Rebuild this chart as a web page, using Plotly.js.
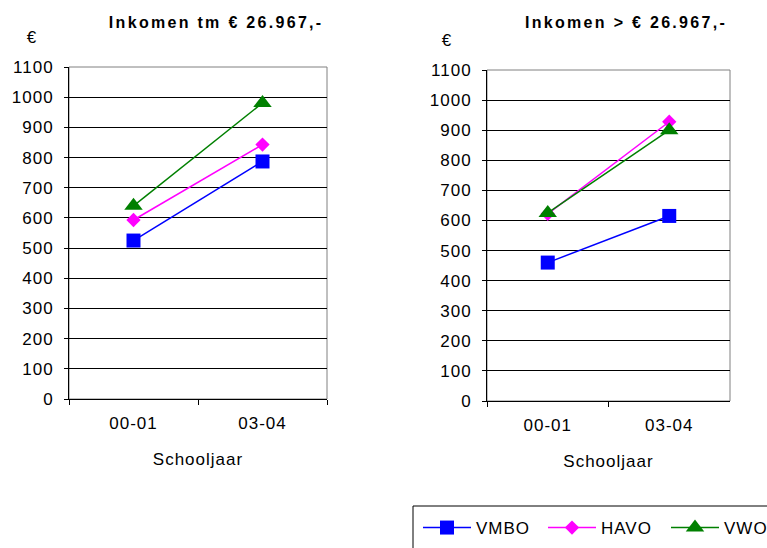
<!DOCTYPE html>
<html>
<head>
<meta charset="utf-8">
<script src="https://cdn.plot.ly/plotly-3.0.1.min.js"></script>
<style>
html,body{margin:0;padding:0;background:#fff;}
#chart{width:767px;height:548px;}
.main-svg text{letter-spacing:1px;}
.main-svg .annotation-text{letter-spacing:2.3px;}
</style>
</head>
<body>
<div id="chart"></div>
<script>
const categories = ["00-01", "03-04"];
const seriesNames = ["VMBO", "HAVO", "VWO"];
// Left panel: Inkomen tm € 26.967,-
const leftVMBO = [525, 787];
const leftHAVO = [593, 843];
const leftVWO  = [640, 981];
// Right panel: Inkomen > € 26.967,-
const rightVMBO = [460, 615];
const rightHAVO = [622, 928];
const rightVWO  = [625, 900];
const yTicks = [0,100,200,300,400,500,600,700,800,900,1000,1100];
const titles = ["Inkomen tm € 26.967,-", "Inkomen > € 26.967,-"];
const xTitle = "Schooljaar";
const yUnit = "€";

const colors = ["#0000ff", "#ff00ff", "#008000"];
const symbols = ["square", "diamond", "triangle-up"];
const sizes = [14, 11, 16];
const legendIds = ["legend", "legend2", "legend3"];

const W = 767, H = 548;
const px = v => v / W, py = v => 1 - v / H;

const leftData = [leftVMBO, leftHAVO, leftVWO];
const rightData = [rightVMBO, rightHAVO, rightVWO];
const traces = [];
[leftData, rightData].forEach((set, p) => {
  set.forEach((vals, i) => {
    traces.push({
      type: "scatter", mode: "lines+markers",
      x: categories, y: vals, name: seriesNames[i],
      xaxis: p === 0 ? "x" : "x2", yaxis: p === 0 ? "y" : "y2",
      showlegend: p === 0, legend: legendIds[i],
      line: {color: colors[i], width: 1.5},
      marker: {color: colors[i], symbol: symbols[i], size: sizes[i]}
    });
  });
});

const font = {family: "Liberation Sans, Arial, sans-serif", color: "#000", size: 17};
function xax(domain, anchor) {
  return {
    domain: domain, anchor: anchor, type: "category",
    range: [-0.5, 1.5], tickson: "boundaries",
    ticks: "outside", ticklen: 5, tickcolor: "#000",
    showline: true, linecolor: "#000", linewidth: 1,
    showgrid: false, zeroline: false,
    tickfont: font, ticklabelstandoff: 9,
    title: {text: xTitle, font: font, standoff: 20}
  };
}
function yax(domain, anchor) {
  return {
    domain: domain, anchor: anchor, range: [0, 1100],
    tickvals: yTicks, ticktext: yTicks.map(String),
    ticks: "outside", ticklen: 4, tickcolor: "#000",
    showline: true, linecolor: "#000", linewidth: 1,
    showgrid: true, gridcolor: "#000", gridwidth: 1,
    zeroline: false, tickfont: font, ticklabelstandoff: 7
  };
}
function leg(xpix) {
  return {
    orientation: "h", x: px(xpix), y: py(510), xanchor: "left", yanchor: "top",
    font: font, bgcolor: "rgba(0,0,0,0)", borderwidth: 0, itemwidth: 48
  };
}

const titleFont = {family: font.family, size: 16, color: "#000", weight: "bold"};
const layout = {
  width: W, height: H,
  margin: {l: 0, r: 0, t: 0, b: 0, autoexpand: false},
  paper_bgcolor: "#fff", plot_bgcolor: "#fff",
  font: font,
  xaxis: xax([px(69), px(327)], "y"),
  yaxis: yax([py(399), py(67)], "x"),
  xaxis2: xax([px(487), px(730)], "y2"),
  yaxis2: yax([py(401), py(70)], "x2"),
  shapes: [
    {type: "rect", xref: "x domain", yref: "y domain", x0: 0, x1: 1, y0: 0, y1: 1,
     line: {color: "#808080", width: 1}, layer: "below"},
    {type: "rect", xref: "x2 domain", yref: "y2 domain", x0: 0, x1: 1, y0: 0, y1: 1,
     line: {color: "#808080", width: 1}, layer: "below"},
    {type: "rect", xref: "paper", yref: "paper", x0: px(413), x1: px(780), y0: py(560), y1: py(506),
     line: {color: "#000", width: 1}, fillcolor: "rgba(0,0,0,0)"}
  ],
  annotations: [
    {text: titles[0], xref: "paper", yref: "paper", x: px(216), y: py(22),
     xanchor: "center", yanchor: "middle", showarrow: false, font: titleFont},
    {text: titles[1], xref: "paper", yref: "paper", x: px(626), y: py(22),
     xanchor: "center", yanchor: "middle", showarrow: false, font: titleFont},
    {text: yUnit, xref: "paper", yref: "paper", x: px(33), y: py(38),
     xanchor: "center", yanchor: "middle", showarrow: false, font: font},
    {text: yUnit, xref: "paper", yref: "paper", x: px(448), y: py(40),
     xanchor: "center", yanchor: "middle", showarrow: false, font: font}
  ],
  showlegend: true,
  legend: leg(418),
  legend2: leg(543),
  legend3: leg(666)
};

Plotly.newPlot("chart", traces, layout, {displayModeBar: false, staticPlot: true});
</script>
</body>
</html>
